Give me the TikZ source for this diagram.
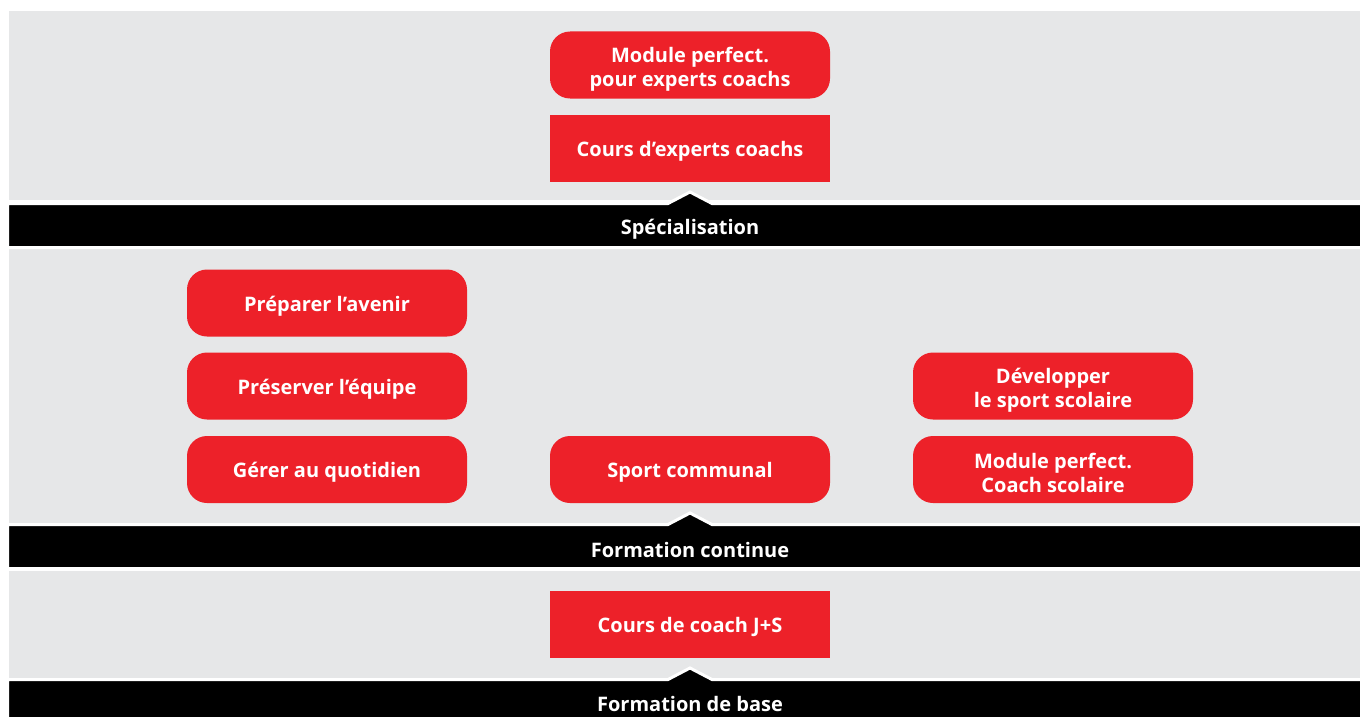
\documentclass[tikz,border=0pt]{standalone}
\usepackage{fontspec}
\setmainfont{Open Sans}
\definecolor{swissred}{HTML}{ED2129}
\definecolor{bandgray}{HTML}{E6E7E8}
\newcommand{\liftstrut}{\rule{0pt}{23pt}}

\begin{document}
\begin{tikzpicture}[x=1pt,y=-1pt,
  box node/.style={fill=swissred,text=white,font=\bfseries\fontsize{20}{24}\selectfont,
    minimum width=280pt,minimum height=67pt,align=center,inner sep=0pt,
    execute at begin node={\rule{0pt}{21pt}}},
  round node/.style={box node,rounded corners=20pt},
  bar node/.style={text=white,font=\bfseries\fontsize{20}{24}\selectfont,inner sep=0pt},
  bar/.style={fill=black,draw=white,line width=3pt,line join=miter}]
  \useasboundingbox (0,0) rectangle (1360,717);
  \clip (0,0) rectangle (1360,717);

  % gray bands
  \fill[bandgray] (9,11) rectangle (1360,200);
  \fill[bandgray] (9,249) rectangle (1360,523);
  \fill[bandgray] (9,571) rectangle (1360,678);

  % black bars with notch
  \draw[bar] (7.5,203.5) -- (668,203.5) -- (690,192) -- (712,203.5) -- (1361.5,203.5)
    -- (1361.5,247.5) -- (7.5,247.5) -- cycle;
  \draw[bar] (7.5,524.5) -- (668,524.5) -- (690,513) -- (712,524.5) -- (1361.5,524.5)
    -- (1361.5,568.5) -- (7.5,568.5) -- cycle;
  \draw[bar] (7.5,679.5) -- (668,679.5) -- (690,668) -- (712,679.5) -- (1361.5,679.5)
    -- (1361.5,723.5) -- (7.5,723.5) -- cycle;
  \node[bar node] (spec) at (690,229) {Spécialisation};
  \node[bar node] (cont) at (690,550) {Formation continue};
  \node[bar node] (base) at (690,704) {Formation de base};

  % specialisation
  \node[round node] (modexp) at (690,65) {\liftstrut Module perfect.\\pour experts coachs};
  \node[box node] (coursexp) at (690,148) {Cours d’experts coachs};

  % formation continue
  \node[round node] (avenir) at (327,303) {Préparer l’avenir};
  \node[round node] (equipe) at (327,386) {Préserver l’équipe};
  \node[round node] (quotid) at (327,469.5) {Gérer au quotidien};
  \node[round node] (communal) at (690,469.5) {Sport communal};
  \node[round node] (scolaire) at (1053,386) {\liftstrut Développer\\le sport scolaire};
  \node[round node] (modscol) at (1053,469.5) {\liftstrut Module perfect.\\Coach scolaire};

  % formation de base
  \node[box node] (coursjs) at (690,624.5) {Cours de coach J+S};
\end{tikzpicture}
\end{document}
